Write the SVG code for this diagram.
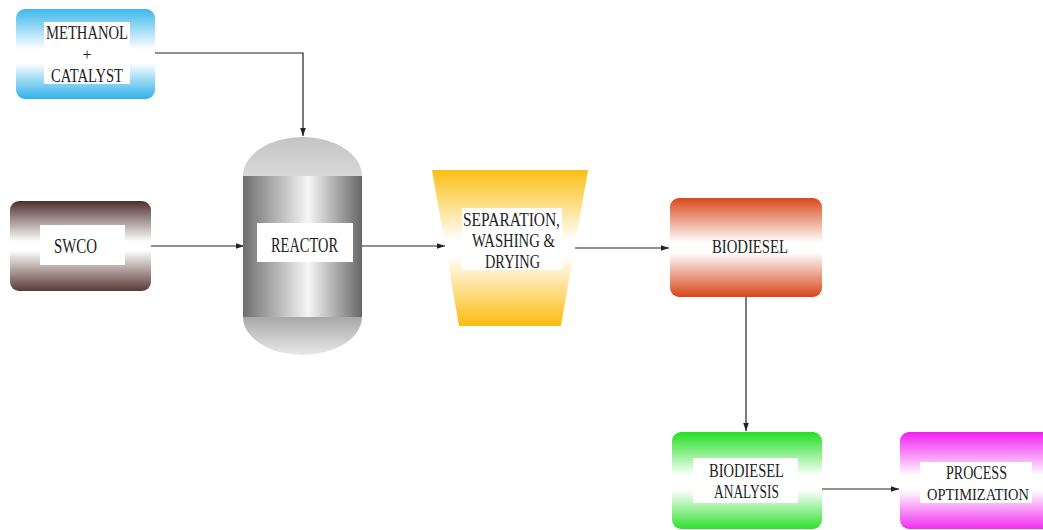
<svg xmlns="http://www.w3.org/2000/svg" width="1043" height="530" viewBox="0 0 1043 530">
<style>
.t{font-family:"Liberation Serif","DejaVu Serif",serif;fill:#222;text-anchor:middle}
.lbl{fill:#fff}
.c{stroke:#222;stroke-width:1.2;fill:none}
</style>
<defs>
<linearGradient id="gBlue" x1="0" y1="0" x2="0" y2="1">
<stop offset="0" stop-color="#3fb8ec"/><stop offset="0.45" stop-color="#ffffff"/><stop offset="0.6" stop-color="#ffffff"/><stop offset="1" stop-color="#2fb0ea"/>
</linearGradient>
<linearGradient id="gBrown" x1="0" y1="0" x2="0" y2="1">
<stop offset="0" stop-color="#4e302c"/><stop offset="0.45" stop-color="#ffffff"/><stop offset="0.55" stop-color="#ffffff"/><stop offset="1" stop-color="#5a3a35"/>
</linearGradient>
<linearGradient id="gOrange" x1="0" y1="0" x2="0" y2="1">
<stop offset="0" stop-color="#d9481a"/><stop offset="0.45" stop-color="#ffffff"/><stop offset="0.55" stop-color="#ffffff"/><stop offset="1" stop-color="#d9441a"/>
</linearGradient>
<linearGradient id="gGreen" x1="0" y1="0" x2="0" y2="1">
<stop offset="0" stop-color="#22e022"/><stop offset="0.45" stop-color="#ffffff"/><stop offset="0.6" stop-color="#ffffff"/><stop offset="1" stop-color="#2ee02e"/>
</linearGradient>
<linearGradient id="gMagenta" x1="0" y1="0" x2="0" y2="1">
<stop offset="0" stop-color="#f01ef0"/><stop offset="0.45" stop-color="#ffffff"/><stop offset="0.6" stop-color="#ffffff"/><stop offset="1" stop-color="#f02ef0"/>
</linearGradient>
<linearGradient id="gYellow" x1="0" y1="0" x2="0" y2="1">
<stop offset="0" stop-color="#fbbf14"/><stop offset="0.45" stop-color="#ffffff"/><stop offset="0.55" stop-color="#ffffff"/><stop offset="1" stop-color="#fbbc10"/>
</linearGradient>
<linearGradient id="gCyl" x1="0" y1="0" x2="1" y2="0">
<stop offset="0" stop-color="#6e6e6e"/><stop offset="0.55" stop-color="#f6f6f6"/><stop offset="1" stop-color="#666"/>
</linearGradient>
<linearGradient id="gTop" x1="0" y1="0" x2="0" y2="1">
<stop offset="0" stop-color="#c4c4c4"/><stop offset="1" stop-color="#d8d8d8"/>
</linearGradient>
<linearGradient id="gBot" x1="0" y1="0" x2="0" y2="1">
<stop offset="0" stop-color="#a8a8a8"/><stop offset="1" stop-color="#e8e8e8"/>
</linearGradient>
<marker id="arr" viewBox="0 0 10 10" refX="10" refY="5" markerWidth="8" markerHeight="8" markerUnits="userSpaceOnUse" orient="auto">
<path d="M0,1.5 L10,5 L0,8.5 z" fill="#222"/>
</marker>
</defs>
<rect width="1043" height="530" fill="#fff"/>

<g id="connectors">
<path class="c" d="M155,53 H303 V136" marker-end="url(#arr)"/>
<path class="c" d="M151,246 H244" marker-end="url(#arr)"/>
<path class="c" d="M362,246 H445" marker-end="url(#arr)"/>
<path class="c" d="M575,248 H669" marker-end="url(#arr)"/>
<path class="c" d="M746,297 V431" marker-end="url(#arr)"/>
<path class="c" d="M822,489 H899" marker-end="url(#arr)"/>
</g>

<g id="methanol">
<rect x="16" y="9" width="139" height="90" rx="9" fill="url(#gBlue)"/>
<rect class="lbl" x="44" y="22" width="86" height="62"/>
<text class="t" x="87" y="39" font-size="18" textLength="82" lengthAdjust="spacingAndGlyphs">METHANOL</text>
<text class="t" x="87" y="60" font-size="16">+</text>
<text class="t" x="87" y="82" font-size="18" textLength="72" lengthAdjust="spacingAndGlyphs">CATALYST</text>
</g>

<g id="swco">
<rect x="10" y="201" width="141" height="90" rx="9" fill="url(#gBrown)"/>
<rect class="lbl" x="40" y="225" width="85" height="40"/>
<text class="t" x="75.5" y="253" font-size="22" textLength="43" lengthAdjust="spacingAndGlyphs">SWCO</text>
</g>

<g id="reactor">
<path d="M243,176 A59.5,39 0 0 1 362,176 Z" fill="url(#gTop)"/>
<rect x="243" y="176" width="119" height="141" fill="url(#gCyl)"/>
<path d="M243,317 A59.5,38 0 0 0 362,317 Z" fill="url(#gBot)"/>
<rect class="lbl" x="257" y="223" width="96" height="39"/>
<text class="t" x="304.5" y="252" font-size="20" textLength="67" lengthAdjust="spacingAndGlyphs">REACTOR</text>
</g>

<g id="separation">
<path d="M432,170 H588 L561,326 H459 Z" fill="url(#gYellow)"/>
<rect class="lbl" x="462" y="208" width="100" height="62"/>
<text class="t" x="511.5" y="226" font-size="19" textLength="97" lengthAdjust="spacingAndGlyphs">SEPARATION,</text>
<text class="t" x="513.5" y="247" font-size="19" textLength="83" lengthAdjust="spacingAndGlyphs">WASHING &amp;</text>
<text class="t" x="512.5" y="268" font-size="19" textLength="55" lengthAdjust="spacingAndGlyphs">DRYING</text>
</g>

<g id="biodiesel">
<rect x="670" y="198" width="152" height="99" rx="9" fill="url(#gOrange)"/>
<text class="t" x="750" y="253" font-size="19" textLength="76" lengthAdjust="spacingAndGlyphs">BIODIESEL</text>
</g>

<g id="analysis">
<rect x="672" y="432" width="150" height="97" rx="9" fill="url(#gGreen)"/>
<rect class="lbl" x="693" y="458" width="105" height="45"/>
<text class="t" x="746.5" y="477" font-size="18" textLength="75" lengthAdjust="spacingAndGlyphs">BIODIESEL</text>
<text class="t" x="746.5" y="498" font-size="18" textLength="65" lengthAdjust="spacingAndGlyphs">ANALYSIS</text>
</g>

<g id="optimization">
<path d="M909,432 H1043 V529 H909 A9,9 0 0 1 900,520 V441 A9,9 0 0 1 909,432 Z" fill="url(#gMagenta)"/>
<rect class="lbl" x="920" y="462" width="112" height="41"/>
<text class="t" x="976.5" y="479" font-size="18" textLength="61" lengthAdjust="spacingAndGlyphs">PROCESS</text>
<text class="t" x="978" y="500" font-size="16" textLength="102" lengthAdjust="spacingAndGlyphs">OPTIMIZATION</text>
</g>
</svg>
